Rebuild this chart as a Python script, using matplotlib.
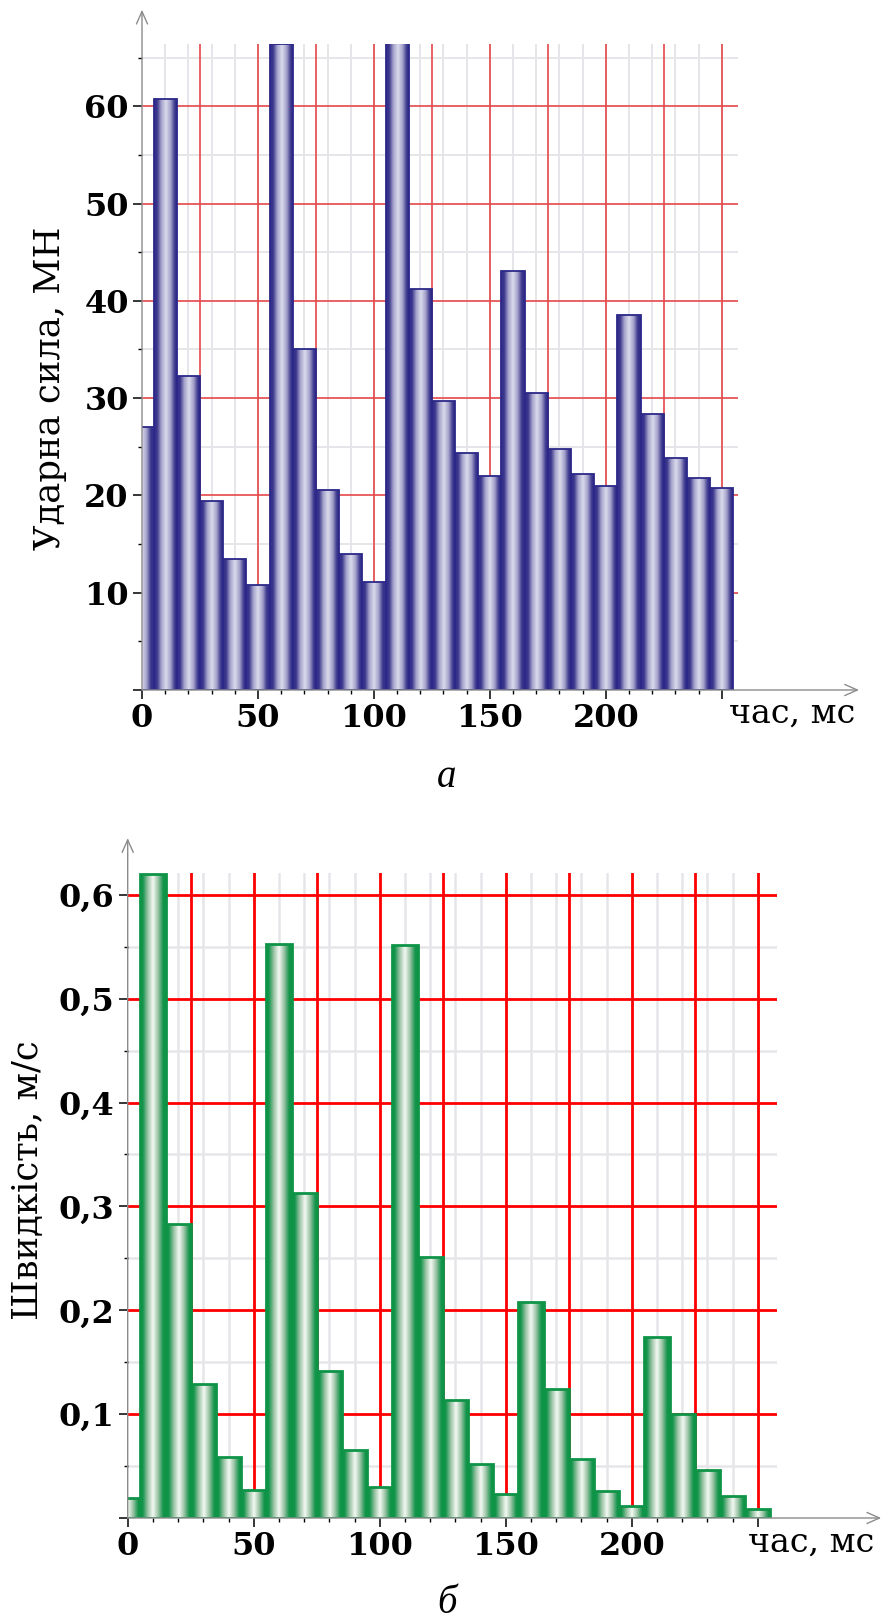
import numpy as np
import matplotlib
matplotlib.use('Agg')
import matplotlib.pyplot as plt
from matplotlib.colors import LinearSegmentedColormap

plt.rcParams['font.family'] = ['DejaVu Serif']

# час, мс
times = [0, 10, 20, 30, 40, 50, 60, 70, 80, 90, 100, 110, 120,
         130, 140, 150, 160, 170, 180, 190, 200, 210, 220, 230, 240, 250]
# ударна сила, МН
force = [27.0, 60.7, 32.3, 19.4, 13.5, 10.8, 66.4, 35.0, 20.6, 14.0, 11.1, 66.5, 41.2,
         29.7, 24.4, 22.0, 43.1, 30.5, 24.8, 22.2, 21.0, 38.5, 28.4, 23.8, 21.8, 20.8]
# швидкість, м/с
speed = [0.019, 0.620, 0.283, 0.129, 0.059, 0.027, 0.553, 0.313, 0.142, 0.065, 0.030, 0.552, 0.251,
         0.114, 0.052, 0.023, 0.208, 0.124, 0.057, 0.026, 0.012, 0.174, 0.100, 0.046, 0.021, 0.009]

time_ticks = [0, 50, 100, 150, 200, 250]
time_ticklabels = ['0', '50', '100', '150', '200', '']
force_ticks = [0, 10, 20, 30, 40, 50, 60]
force_ticklabels = ['', '10', '20', '30', '40', '50', '60']
speed_ticks = [0, 0.1, 0.2, 0.3, 0.4, 0.5, 0.6]
speed_ticklabels = ['', '0,1', '0,2', '0,3', '0,4', '0,5', '0,6']

W, H = 882, 1619
fig = plt.figure(figsize=(W / 100, H / 100), dpi=100)

cmap_blue = LinearSegmentedColormap.from_list(
    'blue', [(0, '#342f89'), (0.12, '#3a358c'), (0.3, '#a3a1ca'), (0.5, '#dcdced'),
             (0.7, '#a3a1ca'), (0.88, '#3a358c'), (1, '#342f89')])
cmap_green = LinearSegmentedColormap.from_list(
    'green', [(0, '#0f9446'), (0.1, '#14944b'), (0.3, '#9cc4a6'), (0.5, '#f4faf4'),
              (0.7, '#9cc4a6'), (0.9, '#14944b'), (1, '#0f9446')])


def draw_panel(ax, values, xmax, ymax, yticks, yticklabels, ymajor, cmap, edge, edge_lw,
               red, red_lw, grey_lw, arrow_y, arrow_x):
    grad = np.linspace(0, 1, 64).reshape(1, -1)
    bars = ax.bar(times, values, width=10, facecolor='none', edgecolor=edge,
                  linewidth=edge_lw, zorder=4)
    for rect in bars.patches:
        x0, w, h = rect.get_x(), rect.get_width(), rect.get_height()
        im = ax.imshow(grad, extent=(x0, x0 + w, 0, h), cmap=cmap, aspect='auto',
                       interpolation='bilinear', zorder=3)
        # path-кліп, щоб залишився і кліп по осях
        im.set_clip_path(rect.get_path(), rect.get_transform())

    # сітка: сірі лінії кожні 10 мс / пів поділки, червоні кожні 25 мс / поділку
    for x in np.arange(10, xmax, 10):
        ax.axvline(x, color='#e6e6ea', lw=grey_lw, zorder=1)
    for y in np.arange(ymajor / 2, ymax, ymajor):
        ax.axhline(y, color='#e6e6ea', lw=grey_lw, zorder=1)
    for x in np.arange(25, xmax, 25):
        ax.axvline(x, color=red, lw=red_lw, zorder=2)
    for y in yticks[1:]:
        ax.axhline(y, color=red, lw=red_lw, zorder=2)

    ax.set_xlim(0, xmax)
    ax.set_ylim(0, ymax)
    for s in ax.spines.values():
        s.set_visible(False)

    ax.set_xticks(time_ticks)
    ax.set_xticklabels(time_ticklabels)
    ax.set_xticks(np.arange(10, 260, 10), minor=True)
    ax.set_yticks(yticks)
    ax.set_yticklabels(yticklabels)
    ax.set_yticks(np.arange(ymajor / 2, ymax, ymajor), minor=True)
    ax.tick_params(which='major', length=6.5, width=1.1, direction='out', pad=3,
                   labelsize=23)
    ax.tick_params(which='minor', length=3.2, width=1.0, direction='out')
    for lab in ax.get_xticklabels() + ax.get_yticklabels():
        lab.set_fontweight('bold')

    arrow = dict(arrowstyle='->,head_length=0.45,head_width=0.2', color='#8c8c8c', lw=1.0,
                 shrinkA=0, shrinkB=0, mutation_scale=20)
    ax.annotate('', xy=(0, arrow_y), xytext=(0, 0), xycoords='axes fraction',
                arrowprops=arrow, annotation_clip=False, zorder=6)
    ax.annotate('', xy=(arrow_x, 0), xytext=(0, 0), xycoords='axes fraction',
                arrowprops=arrow, annotation_clip=False, zorder=6)


# а
ax1 = fig.add_axes([142 / W, 1 - 690 / H, 596 / W, 646 / H])
draw_panel(ax1, force, 257, 66.4, force_ticks, force_ticklabels, 10, cmap_blue,
           '#2b2889', 1.3, '#e4484a', 1.2, 1.4, 1.053, 1.203)
fig.text(50 / W, 1 - 388 / H, 'Ударна сила, МН', rotation=90, ha='center', va='center',
         fontsize=25.5)
fig.text(729 / W, 1 - 723 / H, 'час, мс', ha='left', va='baseline', fontsize=24)
fig.text(447 / W, 1 - 787 / H, 'а', ha='center', va='baseline', fontsize=28,
         style='italic', family=['Liberation Serif'])

# б
ax2 = fig.add_axes([127.7 / W, 1 - 1518 / H, 649 / W, 645 / H])
draw_panel(ax2, speed, 257.5, 0.621, speed_ticks, speed_ticklabels, 0.1, cmap_green,
           '#0e9447', 2.0, '#ff0000', 2.0, 1.8, 1.054, 1.161)
fig.text(28 / W, 1 - 1180 / H, 'Швидкість, м/с', rotation=90, ha='center', va='center',
         fontsize=25.5)
fig.text(748 / W, 1 - 1552 / H, 'час, мс', ha='left', va='baseline', fontsize=24)
fig.text(447 / W, 1 - 1613 / H, 'б', ha='center', va='baseline', fontsize=28,
         style='italic', family=['Liberation Serif'])

fig.savefig('out.png', dpi=100, facecolor='white')
plt.close(fig)
